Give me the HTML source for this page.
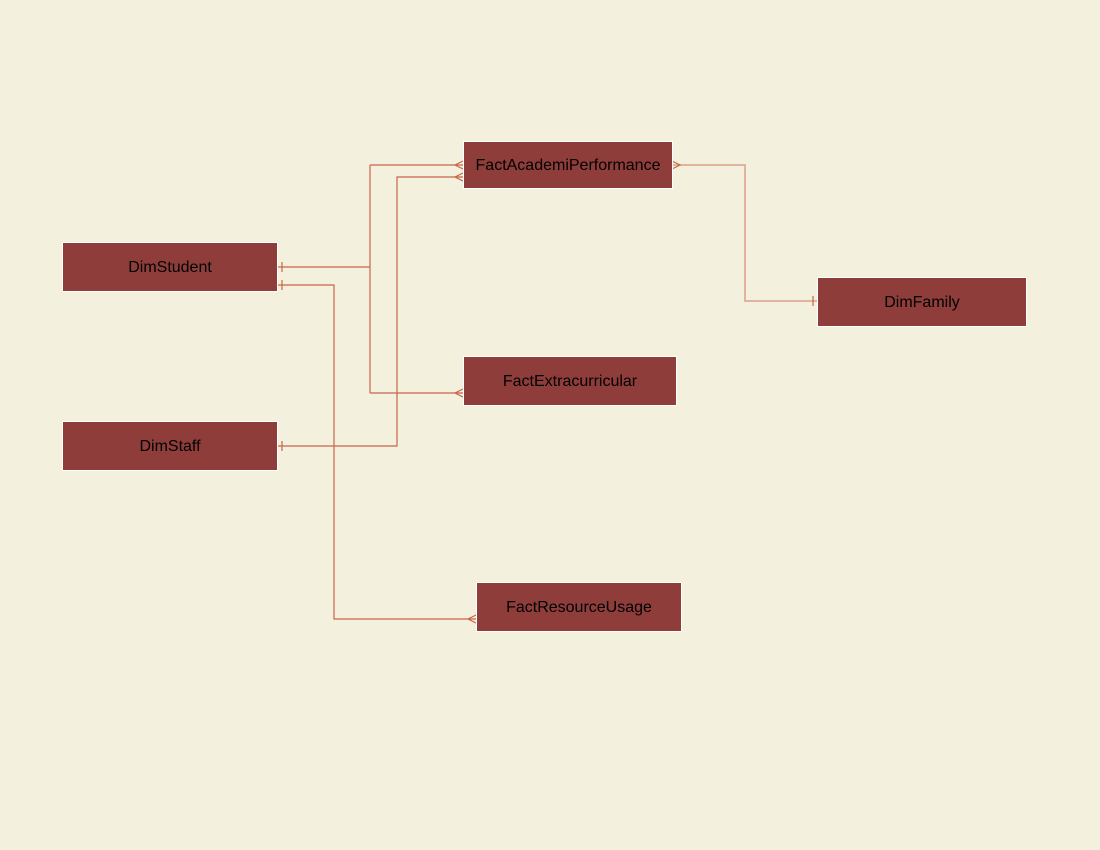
<!DOCTYPE html>
<html><head><style>
body{margin:0;background:#f4f0de;}
.b{position:absolute;background:#8f3d3b;border:1px solid #fff;box-sizing:border-box;color:#000;font-family:"Liberation Sans",sans-serif;font-size:16px;display:flex;align-items:center;justify-content:center;padding-top:1px;}
</style></head><body>
<div style="position:relative;width:1100px;height:850px;overflow:hidden">
<svg width="1100" height="850" style="position:absolute;left:0;top:0" fill="none" stroke="#c8644a" stroke-width="1.2">
<path d="M277 267H370M370 165V393M370 165H463M370 393H463"/>
<path d="M277 285H334V619H476"/>
<path d="M277 446H397V177H463"/>
<path d="M672 165H745V301H817" stroke="#dca08a" stroke-width="1.5"/>
<path d="M282 262V272M282 280V290M282 441V451M813 296V306"/>
<path d="M463 161L455 165L463 169M463 173L455 177L463 181M463 389L455 393L463 397M476 615L468 619L476 623M672 161L680 165L672 169"/>
</svg>
<div class="b" style="left:62px;top:242px;width:216px;height:50px">DimStudent</div>
<div class="b" style="left:463px;top:141px;width:210px;height:48px">FactAcademiPerformance</div>
<div class="b" style="left:817px;top:277px;width:210px;height:50px">DimFamily</div>
<div class="b" style="left:463px;top:356px;width:214px;height:50px">FactExtracurricular</div>
<div class="b" style="left:62px;top:421px;width:216px;height:50px">DimStaff</div>
<div class="b" style="left:476px;top:582px;width:206px;height:50px">FactResourceUsage</div>
</div>
</body></html>
